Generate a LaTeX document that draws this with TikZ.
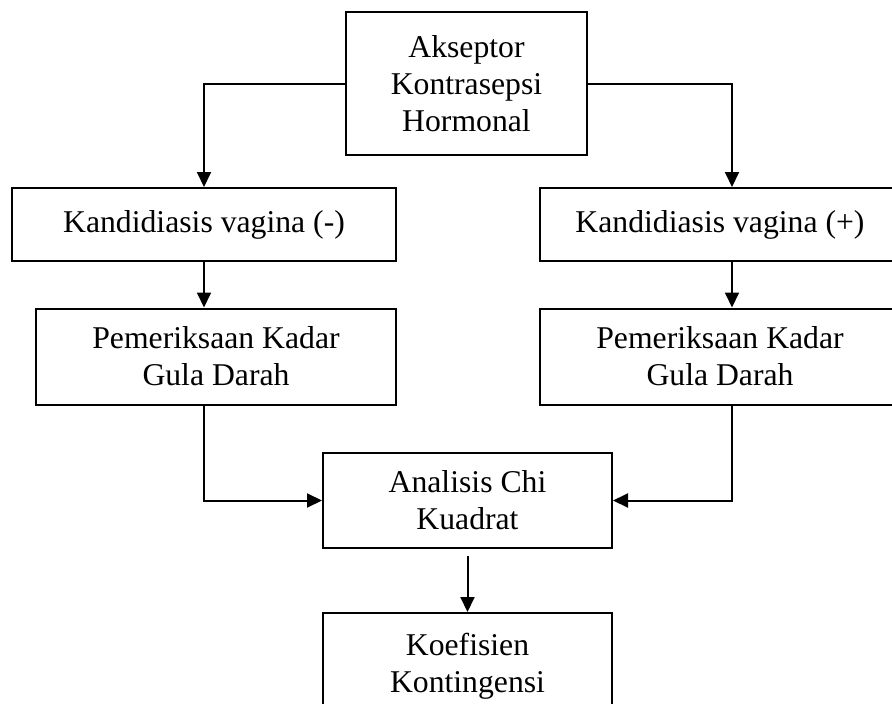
\documentclass[tikz,border=0pt]{standalone}
\usepackage{fontspec}
\setmainfont{Liberation Serif}
\usetikzlibrary{arrows.meta}
\newcommand{\boxline}{2pt}

\begin{document}
\begin{tikzpicture}[x=1pt,y=-1pt]
                \clip (0,0) rectangle (892,704);
                \coordinate (colL) at (204,0);
                \coordinate (colR) at (732,0);

                \begin{scope}[every node/.style={rectangle,draw,line width=\boxline,align=center,inner sep=0pt,font=\fontsize{31.7}{37}\selectfont}]
                    \node[minimum width=241pt,minimum height=143pt] (akseptor) at (466.5,83.5) {Akseptor\\Kontrasepsi\\Hormonal};
                    \node[minimum width=384pt,minimum height=73pt] (kneg) at (204,224.5) {Kandidiasis vagina (-)};
                    \node[minimum width=360pt,minimum height=73pt] (kpos) at (720,224.5) {Kandidiasis vagina (+)};
                    \node[minimum width=360pt,minimum height=96pt] (gneg) at (216,356.5) {Pemeriksaan Kadar\\Gula Darah};
                    \node[minimum width=360pt,minimum height=96pt] (gpos) at (720,356.5) {Pemeriksaan Kadar\\Gula Darah};
                    \node[minimum width=289pt,minimum height=95pt] (chi) at (467.5,500.5) {Analisis Chi\\Kuadrat};
                    \node[minimum width=289pt,minimum height=107pt] (koef) at (467.5,666.5) {Koefisien\\Kontingensi};
                \end{scope}

                \begin{scope}[>={Triangle[length=15pt,width=14pt]},
                    line width=\boxline]
                    \draw [->] (akseptor.west) -| (kneg.north);
                    \draw [->] (akseptor.east) -| (kpos.north -| colR);

                    \draw [->] (kneg.south) -- (gneg.north -| colL);
                    \draw [->] (kpos.south -| colR) -- (gpos.north -| colR);

                    \draw [->] (gneg.south -| colL) |- (chi.west);
                    \draw [->] (gpos.south -| colR) |- (chi.east);
                    \draw [->,shorten <=7pt] (chi.south) -- (koef.north);
                \end{scope}
            \end{tikzpicture}
\end{document}
